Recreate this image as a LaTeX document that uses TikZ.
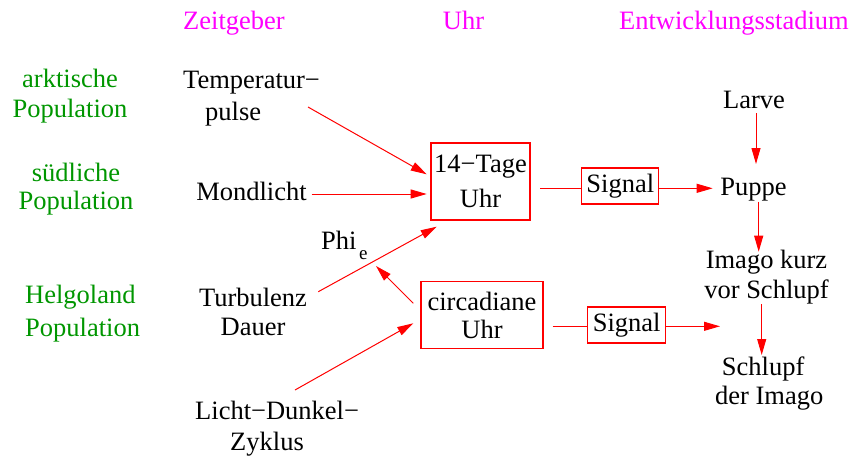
\documentclass[tikz,border=0pt]{standalone}
\usepackage{fontspec}
\setmainfont{LiberationSerif}[Extension=.ttf,UprightFont=*-Regular]
\usetikzlibrary{arrows.meta}
\definecolor{popgruen}{RGB}{0,150,0}
\definecolor{kopfmagenta}{RGB}{255,0,255}

\begin{document}
\begin{tikzpicture}[x=1pt,y=-1pt,
  every node/.style={inner sep=0pt,font=\fontsize{26.5}{30}\selectfont},
  kopf/.style={text=kopfmagenta,anchor=base},
  pop/.style={text=popgruen,align=center},
  uhrbox/.style={draw=red,line width=1.3pt,align=center},
  pfeil/.style={draw=red,line width=1pt,-{Triangle[length=16pt,width=9pt]}},
  linie/.style={draw=red,line width=1pt}]

\useasboundingbox (0,0) rectangle (852,456);

\node[kopf] (zeitgeber) at (234,29.3) {Zeitgeber}; %Spalten
\node[kopf] (uhr) at (463.5,29.3) {Uhr};
\node[kopf] (stadium) at (734,29.3) {Entwicklungsstadium};

\node[pop] (arktisch) at (70,96.4) {arktische\\Population}; %Populationen
\node[pop] (suedlich) at (76,189.2) {südliche\\[-2.7pt]Population};
\node[pop,align=left,anchor=north west] (helgoland) at (25,285.2) {Helgoland\\[2.4pt]Population};

\node[anchor=north west,align=left] (temp) at (183,70.5) {Temperatur−\\[2pt]\hspace*{22pt}pulse}; %Zeitgeber
\node[anchor=base] (mond) at (251.5,200) {Mondlicht};
\node[align=center] (turb) at (253,311.8) {Turbulenz\\[-1.7pt]Dauer};
\node[anchor=north west,align=left] (licht) at (195,401.2) {Licht−Dunkel−\\[0.7pt]\hspace*{35pt}Zyklus};
\node[anchor=base west] (phi) at (321,249) {Phi\hspace{2.6pt}\raisebox{-10pt}{\fontsize{19}{19}\selectfont e}};

\node[uhrbox,minimum width=99pt,minimum height=77pt] (tage) at (480.5,181.5) {14−Tage\\[5.6pt]Uhr}; %Uhren
\node[uhrbox,minimum width=122pt,minimum height=67pt] (circ) at (482,315.3) {circadiane\\[-1.7pt]Uhr};
\node[uhrbox,minimum width=77pt,minimum height=36pt] (sig1) at (620.3,186) {Signal};
\node[uhrbox,minimum width=78pt,minimum height=36pt] (sig2) at (626.7,325) {Signal};

\node[anchor=base] (larve) at (754,108) {Larve}; %Stadien
\node[anchor=base] (puppe) at (753.5,195) {Puppe};
\node[align=center] (imago) at (766.5,277.2) {Imago kurz\\vor Schlupf};
\node[anchor=north west,align=left] (schlupf) at (715,356.9) {\hspace*{6.7pt}Schlupf\\[-1.7pt]der Imago};

\coordinate (tempA) at (308,107);
\coordinate (tempB) at (426.7,174.3);
\coordinate (mondA) at (311.7,194);
\coordinate (mondB) at (426.7,194);
\coordinate (turbA) at (318.3,291.7);
\coordinate (turbB) at (436.7,226.7);
\coordinate (phiA) at (413.3,303.3);
\coordinate (phiB) at (376,266);
\coordinate (lichtA) at (295,390);
\coordinate (lichtB) at (413.3,323.3);
\draw[pfeil] (tempA) -- (tempB);
\draw[pfeil] (mondA) -- (mondB);
\draw[pfeil] (turbA) -- (turbB);
\draw[pfeil] (phiA) -- (phiB);
\draw[pfeil] (lichtA) -- (lichtB);

\coordinate (tageA) at (540,188.3);
\coordinate (sigA) at (712.7,188.3);
\draw[linie] (tageA) -- (tageA -| sig1.west);
\draw[pfeil] (sig1.east |- sigA) -- (sigA);
\coordinate (circA) at (552.7,326.3);
\coordinate (sigB) at (720,326.3);
\draw[linie] (circA) -- (circA -| sig2.west);
\draw[pfeil] (sig2.east |- sigB) -- (sigB);

\coordinate (larveA) at (756,113);
\coordinate (larveB) at (756,164);
\coordinate (puppeA) at (758.7,201.7);
\coordinate (puppeB) at (758.7,251.7);
\coordinate (imagoA) at (761.7,304);
\coordinate (imagoB) at (761.7,355);
\draw[pfeil] (larveA) -- (larveB);
\draw[pfeil] (puppeA) -- (puppeB);
\draw[pfeil] (imagoA) -- (imagoB);

\end{tikzpicture}
\end{document}
